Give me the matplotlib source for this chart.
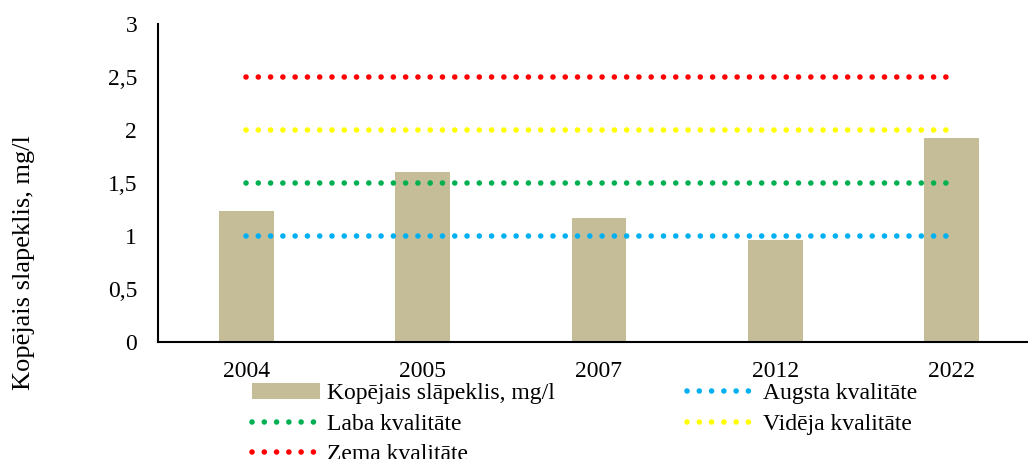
import matplotlib.pyplot as plt
from matplotlib.ticker import FuncFormatter

# dati
years = ["2004", "2005", "2007", "2012", "2022"]
nitrogen = [1.24, 1.60, 1.17, 0.96, 1.92]
augsta = [1.0, 1.0, 1.0, 1.0, 1.0]
laba = [1.5, 1.5, 1.5, 1.5, 1.5]
videja = [2.0, 2.0, 2.0, 2.0, 2.0]
zema = [2.5, 2.5, 2.5, 2.5, 2.5]

plt.rcParams['font.family'] = ['Liberation Serif', 'DejaVu Serif']
plt.rcParams['font.size'] = 17

fig = plt.figure(figsize=(10.28, 4.59), dpi=100)
ax = fig.add_axes([158/1028, 1-342/459, (1040-158)/1028, (342-24)/459])

x = list(range(len(years)))
bars = ax.bar(x, nitrogen, width=0.31, color="#C4BD97", label="Kopējais slāpeklis, mg/l")

dots = (0, (0.01, 2.2))
kw = dict(linewidth=4, linestyle=dots, dash_capstyle="round")
l1, = ax.plot(x, augsta, color="#00B0F0", label="Augsta kvalitāte", **kw)
l2, = ax.plot(x, laba, color="#00B050", label="Laba kvalitāte", **kw)
l3, = ax.plot(x, videja, color="#FFFF00", label="Vidēja kvalitāte", **kw)
l4, = ax.plot(x, zema, color="#FF0000", label="Zema kvalitāte", **kw)

ax.set_xlim(-0.5, 4.5)
ax.set_ylim(0, 3)
ax.set_yticks([0, 0.5, 1, 1.5, 2, 2.5, 3])
ax.yaxis.set_major_formatter(FuncFormatter(lambda v, p: ("%g" % v).replace(".", ",")))
ax.set_xticks(x)
ax.set_xticklabels(years)
ax.tick_params(length=0)
ax.tick_params(axis="x", pad=14)
ax.tick_params(axis="y", pad=15)
ax.spines["top"].set_visible(False)
ax.spines["right"].set_visible(False)
ax.spines["left"].set_linewidth(1.5)
ax.spines["bottom"].set_linewidth(1.5)

# ass nosaukums (nav centrēts pret asi, kā oriģinālā)
fig.text(24/1028, 1-263/459, "Kopējais slapeklis, mg/l", rotation=90,
         ha="center", va="center", fontsize=19)

# legenda - kolonnas: pirmā kolonna 3 ieraksti, otrā 2
handles = [bars, l2, l4, l1, l3]
labels = [h.get_label() for h in handles]
fig.legend(handles, labels, ncol=2, loc="upper left",
           bbox_to_anchor=(240/1028, 1-371/459), frameon=False,
           handlelength=2.9, handletextpad=0.3, columnspacing=5.6,
           labelspacing=0.38, borderpad=0)

fig.savefig("out.png", dpi=100)
